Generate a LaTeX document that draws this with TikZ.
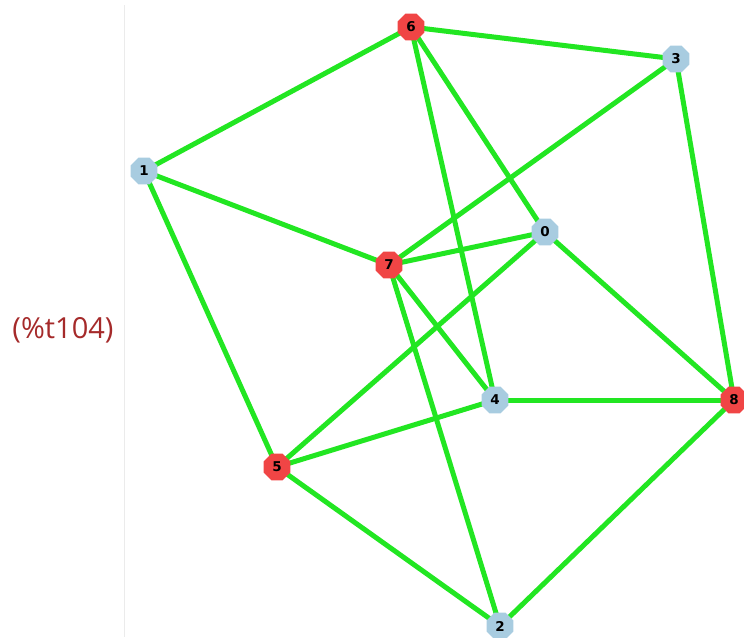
\documentclass[tikz,border=0pt]{standalone}
\usepackage{fontspec}
\setmainfont{Open Sans}
\newfontfamily\lblfont{DejaVu Sans}
\usetikzlibrary{shapes.geometric,backgrounds}
\definecolor{vred}{HTML}{F04545}
\definecolor{vblue}{HTML}{A8CCE0}
\definecolor{egreen}{HTML}{22E622}
\definecolor{tbrown}{HTML}{A52A2A}
\tikzset{
  vtx/.style={regular polygon, regular polygon sides=8, minimum size=29pt, inner sep=0pt,
    font=\lblfont\bfseries\fontsize{13.5}{13.5}\selectfont, text=black},
  rv/.style={vtx, fill=vred},
  bv/.style={vtx, fill=vblue},
  edge/.style={draw=egreen, line width=5pt},
}
\begin{document}
\begin{tikzpicture}[x=1pt,y=-1pt]
\useasboundingbox (0,0) rectangle (744,637);
\draw[black!8, line width=0.6pt] (124,5) -- (124,637);
\node[text=tbrown, font=\fontsize{29}{29}\selectfont] (lab) at (63,330) {(\%t104)};
\node[rv] (n6) at (411,27) {6};
\node[bv] (n3) at (676,59) {3};
\node[bv] (n1) at (144,171) {1};
\node[bv] (n0) at (545,232) {0};
\node[rv] (n7) at (389,265) {7};
\node[bv] (n4) at (495,400) {4};
\node[rv] (n8) at (734,400) {8};
\node[rv] (n5) at (277,467) {5};
\node[bv] (n2) at (500,626) {2};
\begin{scope}[on background layer]
\foreach \a/\b in {n1/n6,n1/n7,n1/n5,n6/n3,n6/n4,n6/n0,n3/n7,n3/n8,n7/n0,n7/n4,n7/n2,n0/n5,n0/n8,n4/n5,n4/n8,n5/n2,n8/n2}
  \path[edge] (\a.center) -- (\b.center);
\end{scope}
\end{tikzpicture}
\end{document}
